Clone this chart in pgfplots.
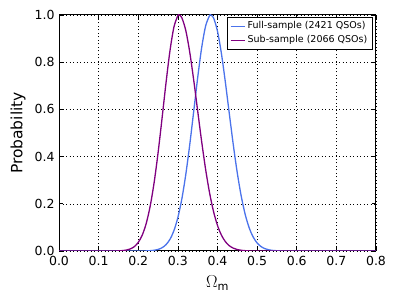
\documentclass[border=0pt]{standalone}
\usepackage{fontspec}
\setmainfont{DejaVu Sans}
\usepackage{pgfplots}
\pgfplotsset{compat=1.18}
\definecolor{fullblue}{RGB}{75,115,235}
\definecolor{subpurple}{RGB}{128,0,128}
\begin{document}
\begin{tikzpicture}
\begin{axis}[
  name=ax,
  scale only axis,
  width=317pt, height=236pt,
  xmin=0, xmax=0.8, ymin=0, ymax=1.0,
  xtick={0,0.1,...,0.8},
  ytick={0,0.2,...,1.0},
  /pgf/number format/.cd, fixed, fixed zerofill, precision=1, assume math mode=true,
  /pgfplots/.cd,
  tick label style={font=\fontsize{12.5}{14}\selectfont},
  xticklabel style={yshift=-2pt},
  yticklabel style={xshift=-1pt},
  grid=major,
  major grid style={black, line width=0.5pt, dash pattern=on 1pt off 2.5pt},
  tick align=inside,
  major tick length=4pt,
  tick style={black, line width=0.6pt},
  axis line style={black, line width=1pt},
  xlabel={$\Omega_{\mathrm{m}}$},
  ylabel={Probability},
  every axis x label/.style={at={(axis description cs:0.5,0)}, yshift=-32pt, anchor=center, font=\fontsize{16}{18}\selectfont},
  every axis y label/.style={at={(axis description cs:0,0.5)}, xshift=-41pt, rotate=90, anchor=center, font=\fontsize{15.5}{18}\selectfont},
  legend style={at={(rel axis cs:1,1)}, anchor=north east, xshift=-3.3pt, yshift=-2pt,
    draw=black, line width=0.8pt, font=\fontsize{9.5}{11}\selectfont,
    inner xsep=2.5pt, inner ysep=2pt, row sep=0pt,
    nodes={inner sep=2.5pt, text height=7pt, text depth=2pt},
    /tikz/every even column/.append style={column sep=3pt}},
  legend cell align=left,
  legend image code/.code={\draw[#1, line width=1.2pt] (0pt,0pt) -- (14pt,0pt);},
]
\addplot[fullblue, line width=1.3pt, smooth] coordinates {
(0,0) (0.20,0) (0.22,0.00054) (0.23,0.00131) (0.24,0.00304) (0.25,0.00665)
(0.26,0.01372) (0.27,0.0268) (0.28,0.0494) (0.29,0.0861) (0.30,0.1419)
(0.31,0.2207) (0.32,0.3247) (0.33,0.4511) (0.34,0.5921) (0.35,0.7345)
(0.36,0.8608) (0.37,0.9532) (0.38,0.9975) (0.383,1.0) (0.39,0.9880)
(0.40,0.9311) (0.41,0.8353) (0.42,0.7132) (0.43,0.5796) (0.44,0.4483)
(0.45,0.3301) (0.46,0.2313) (0.47,0.1543) (0.48,0.0980) (0.49,0.0592)
(0.50,0.0340) (0.51,0.0186) (0.52,0.00972) (0.53,0.00482) (0.54,0.00227)
(0.55,0.00102) (0.56,0.00044) (0.58,0) (0.8,0)
};
\addlegendentry{Full-sample (2421 QSOs)}
\addplot[subpurple, line width=1.3pt, smooth] coordinates {
(0,0) (0.13,0) (0.15,0.00066) (0.16,0.00168) (0.17,0.00397) (0.18,0.00884)
(0.19,0.0185) (0.20,0.03633) (0.21,0.0670) (0.22,0.1161) (0.23,0.1891)
(0.24,0.2893) (0.25,0.4157) (0.26,0.5611) (0.27,0.7116) (0.28,0.8477)
(0.29,0.9486) (0.30,0.9972) (0.303,1.0) (0.31,0.9885) (0.32,0.9340)
(0.33,0.8418) (0.34,0.7236) (0.35,0.5934) (0.36,0.4641) (0.37,0.3462)
(0.38,0.2464) (0.39,0.1672) (0.40,0.1082) (0.41,0.0669) (0.42,0.0394)
(0.43,0.0221) (0.44,0.0119) (0.45,0.00606) (0.46,0.00295) (0.47,0.00137)
(0.48,0.00061) (0.50,0) (0.8,0)
};
\addlegendentry{Sub-sample (2066 QSOs)}
\end{axis}
\path (ax.south west) ++(-59pt,-45pt) coordinate (bl);
\path (ax.north east) ++(19pt,15pt) coordinate (tr);
\path (bl) rectangle (tr);
\end{tikzpicture}
\end{document}
